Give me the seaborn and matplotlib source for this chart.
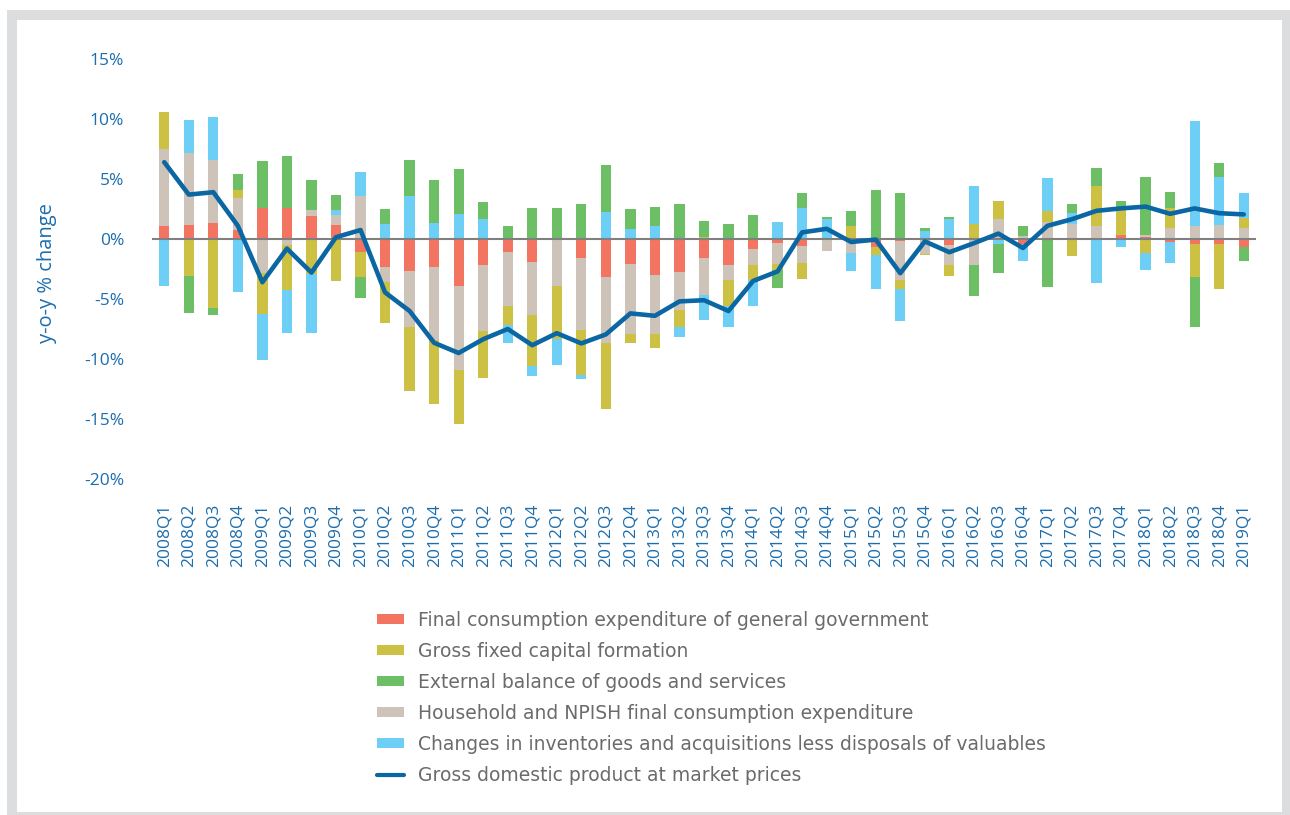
import numpy as np
import pandas as pd
import matplotlib
matplotlib.use("Agg")
import matplotlib.pyplot as plt
import seaborn as sns
from matplotlib.patches import Patch, Rectangle
from matplotlib.lines import Line2D

quarters = [f"{y}Q{q}" for y in range(2008, 2019) for q in range(1, 5)] + ["2019Q1"]

# contributions to y-o-y GDP growth, percentage points
gov = [1.05, 1.2, 1.35, 0.75, 2.6, 2.6, 1.9, 1.15, -1.1, -2.3, -2.7, -2.3, -3.95, -2.15, -1.1,
       -1.9, 0.0, -1.6, -3.15, -2.05, -3.0, -2.75, -1.6, -2.15, -0.8, -0.3, -0.55, 0.0, 0.0,
       -0.65, -0.2, 0.0, -0.5, 0.0, 0.0, -0.4, 0.0, 0.0, 0.0, 0.35, 0.2, -0.25, -0.4, -0.4, -0.65]
household = [6.45, 6.0, 5.2, 2.7, -2.85, -0.5, 0.55, 0.85, 3.6, -1.25, -4.6, -6.1, -7.0, -5.55,
             -4.5, -4.4, -3.9, -5.95, -5.55, -5.9, -4.95, -3.15, -3.1, -1.3, -1.4, -1.75, -1.45,
             -1.0, -1.15, 0.0, -3.25, -1.25, -1.65, -2.15, 1.65, 0.25, 1.45, 1.25, 1.05, 0.0,
             0.15, 0.9, 1.1, 1.2, 0.9]
gfcf = [3.05, -3.05, -5.75, 0.65, -3.4, -3.75, -2.9, -3.5, -2.05, -3.45, -5.4, -5.35, -4.5,
        -3.85, -1.55, -4.3, -4.4, -3.8, -5.5, -0.7, -1.1, -1.4, 0.15, -2.1, -1.25, -0.55, -1.3,
        0.0, 1.05, -0.65, -0.75, -0.05, -0.9, 1.25, 1.5, 0.0, 0.9, -1.4, 3.4, 2.15, -1.15, 1.7,
        -2.8, -3.8, 0.85]
inventories = [-3.95, 2.7, 3.65, -4.45, -3.8, -3.55, -4.95, 0.45, 2.0, 1.25, 3.6, 1.35, 2.1, 1.7,
               -1.5, -0.85, -2.2, -0.35, 2.25, 0.85, 1.1, -0.9, -2.05, -1.75, -2.1, 1.4, 2.6, 1.7,
               -1.5, -2.9, -2.6, 0.7, 1.7, 3.15, -0.45, -1.45, 2.75, 0.95, -3.65, -0.7, -1.4,
               -1.75, 8.7, 3.95, 2.05]
external = [0.05, -3.1, -0.55, 1.3, 3.9, 4.35, 2.5, 1.25, -1.75, 1.25, 3.0, 3.6, 3.75, 1.4, 1.05,
            2.6, 2.55, 2.95, 3.9, 1.65, 1.6, 2.9, 1.35, 1.25, 2.0, -1.5, 1.2, 0.15, 1.3, 4.1, 3.85,
            0.25, 0.15, -2.6, -2.35, 0.8, -4.0, 0.7, 1.5, 0.65, 4.8, 1.35, -4.1, 1.15, -1.2]
gdp = [6.4, 3.7, 3.9, 1.1, -3.6, -0.8, -2.8, 0.15, 0.75, -4.45, -6.0, -8.65, -9.5, -8.35, -7.5,
       -8.85, -7.85, -8.7, -7.95, -6.2, -6.4, -5.2, -5.1, -6.0, -3.5, -2.7, 0.55, 0.85, -0.25,
       -0.05, -2.85, -0.2, -1.1, -0.35, 0.45, -0.75, 1.1, 1.65, 2.35, 2.55, 2.7, 2.1, 2.55,
       2.15, 2.05]

labels = {
    "gov": "Final consumption expenditure of general government",
    "gfcf": "Gross fixed capital formation",
    "external": "External balance of goods and services",
    "household": "Household and NPISH final consumption expenditure",
    "inventories": "Changes in inventories and acquisitions less disposals of valuables",
    "gdp": "Gross domestic product at market prices",
}
colors = {
    "gov": "#F47462",
    "gfcf": "#CDC144",
    "external": "#6CBF64",
    "household": "#CEC3B9",
    "inventories": "#6DCFF6",
}
line_color = "#0B67A3"
tick_color = "#1B6DAD"

df = pd.DataFrame({"quarter": quarters, "gov": gov, "household": household, "gfcf": gfcf,
                   "inventories": inventories, "external": external, "gdp": gdp})
df["x"] = np.arange(len(df))

sns.set_theme(style="white")
plt.rcParams["font.family"] = ["Open Sans", "DejaVu Sans"]

fig = plt.figure(figsize=(12.9, 8.15), dpi=100)
fig.patch.set_facecolor("white")
W, H = 1290, 815
fig.patches.append(Rectangle((7 / W, 0), 1 - 7 / W, 1 - 10 / H, transform=fig.transFigure,
                             facecolor="#DCDDDE", edgecolor="none", zorder=-2))
fig.patches.append(Rectangle((17 / W, 3 / H), (1282 - 17) / W, (812 - 20) / H,
                             transform=fig.transFigure, facecolor="white", edgecolor="none",
                             zorder=-1))

ax = fig.add_axes([152 / W, 1 - 479 / H, (1256 - 152) / W, 420 / H])
ax.set_facecolor("none")

# stacked bars, positives and negatives stacked separately
stack_order = ["gov", "household", "gfcf", "inventories", "external"]
pos_bottom = np.zeros(len(df))
neg_bottom = np.zeros(len(df))
for key in stack_order:
    vals = df[key].to_numpy()
    pos = np.where(vals > 0, vals, 0)
    neg = np.where(vals < 0, vals, 0)
    ax.bar(df["x"], pos, bottom=pos_bottom, width=0.42, color=colors[key], linewidth=0)
    ax.bar(df["x"], neg, bottom=neg_bottom, width=0.42, color=colors[key], linewidth=0)
    pos_bottom += pos
    neg_bottom += neg

ax.axhline(0, color="#808080", lw=1.5, zorder=3)
sns.lineplot(data=df, x="x", y="gdp", ax=ax, color=line_color, lw=3.3, zorder=4)

ax.set_xlim(-0.5, len(df) - 0.5)
ax.set_ylim(-20, 15)
ax.set_yticks(np.arange(-20, 16, 5))
ax.set_yticklabels([f"{v}%" for v in range(-20, 16, 5)])
ax.set_xticks(df["x"])
ax.set_xticklabels(df["quarter"], rotation=90)
ax.tick_params(axis="both", length=0, labelsize=12.5, colors=tick_color)
ax.tick_params(axis="y", pad=20)
ax.tick_params(axis="x", pad=18)
for s in ax.spines.values():
    s.set_visible(False)
ax.set_xlabel("")
ax.set_ylabel("y-o-y % change", fontsize=14.5, color=tick_color)
ax.yaxis.set_label_coords(-0.086, 0.49)

legend_keys = ["gov", "gfcf", "external", "household", "inventories"]
handles = [Patch(facecolor=colors[k], edgecolor="none") for k in legend_keys]
handles.append(Line2D([0], [0], color=line_color, lw=3))
texts = [labels[k] for k in legend_keys] + [labels["gdp"]]
leg = fig.legend(handles, texts, loc="upper left", bbox_to_anchor=(360 / W, 1 - 594 / H),
                 frameon=False, handlelength=1.45, handleheight=0.45,
                 handletextpad=0.75, labelspacing=0.64,
                 prop={"family": ["DejaVu Sans"], "size": 13.5})
for t in leg.get_texts():
    t.set_color("#6B6B6B")

fig.savefig("out.png", dpi=100)
